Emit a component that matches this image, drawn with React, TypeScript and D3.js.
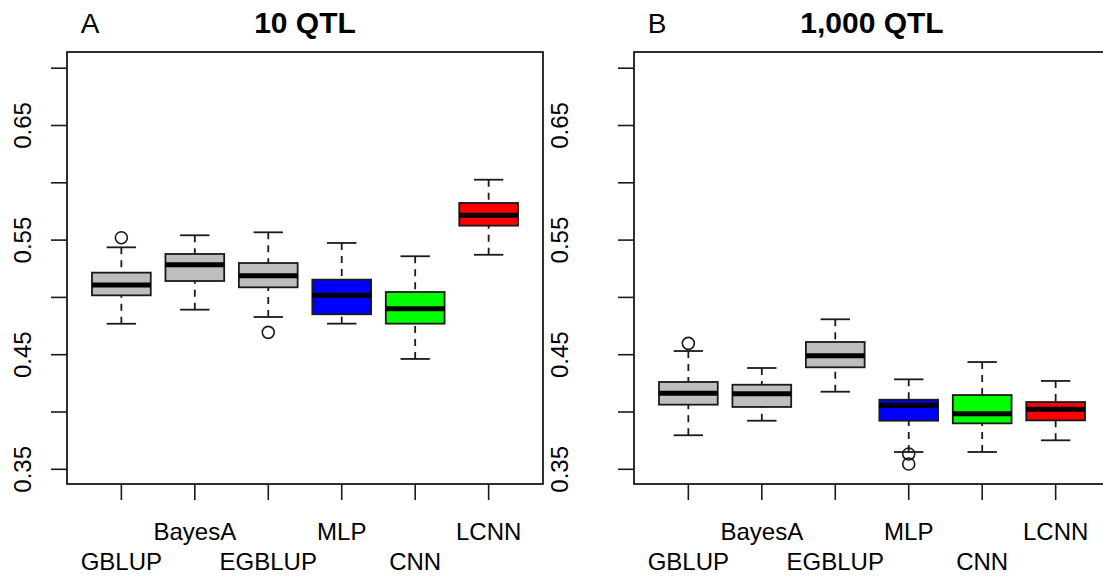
import React from 'react'
import * as d3 from 'd3'

// methods and fill colours
const methods = ['GBLUP', 'BayesA', 'EGBLUP', 'MLP', 'CNN', 'LCNN']
const boxColors = ['#BEBEBE', '#BEBEBE', '#BEBEBE', '#0000FF', '#00FF00', '#FF0000']

const yTicks = [0.35, 0.4, 0.45, 0.5, 0.55, 0.6, 0.65, 0.7]
const yTickLabels = ['0.35', '0.45', '0.55', '0.65']

// panel A: 10 QTL
const qtl10Low = [0.477, 0.4893, 0.4829, 0.4771, 0.4463, 0.5372]
const qtl10Q1 = [0.5018, 0.5143, 0.5088, 0.4853, 0.4771, 0.5626]
const qtl10Median = [0.5108, 0.5285, 0.5189, 0.5018, 0.4901, 0.5716]
const qtl10Q3 = [0.5216, 0.5379, 0.53, 0.5155, 0.5047, 0.5824]
const qtl10High = [0.5437, 0.5542, 0.5568, 0.5475, 0.5359, 0.6027]
const qtl10Outliers = [[0.5521], [], [0.4695], [], [], []]

// panel B: 1,000 QTL
const qtl1000Low = [0.3797, 0.3924, 0.4177, 0.3651, 0.3651, 0.3753]
const qtl1000Q1 = [0.4064, 0.4044, 0.439, 0.3924, 0.3901, 0.3927]
const qtl1000Median = [0.4163, 0.416, 0.4491, 0.4058, 0.3985, 0.4024]
const qtl1000Q3 = [0.4262, 0.4238, 0.4611, 0.4107, 0.4148, 0.4087]
const qtl1000High = [0.4532, 0.4384, 0.4809, 0.4285, 0.4436, 0.4271]
const qtl1000Outliers = [[0.4599], [], [], [0.3634, 0.3546], [], []]

const FONT = 'Liberation Sans, Arial, sans-serif'
const TOP = 52
const BOTTOM = 484
const PANEL_W = 476
const INK = '#1a1a1a'

const y = d3.scaleLinear().domain([0.35, 0.7]).range([469.3, 68.2])

type PanelProps = {
  x0: number
  labelX: number
  letter: string
  title: string
  low: number[]
  q1: number[]
  median: number[]
  q3: number[]
  high: number[]
  outliers: number[][]
}

const Panel = ({ x0, labelX, letter, title, low, q1, median, q3, high, outliers }: PanelProps) => {
  const x = d3.scaleLinear().domain([0.26, 6.74]).range([x0, x0 + PANEL_W])
  const half = x(1.4) - x(1)
  const staple = half / 2

  return (
    <g fontFamily={FONT}>
      <text x={x0 + 23} y={33} fontSize={28} textAnchor="middle">{letter}</text>
      <text x={x0 + PANEL_W / 2} y={33} fontSize={30} fontWeight="bold" textAnchor="middle">{title}</text>

      {methods.map((m, i) => {
        const cx = x(i + 1)
        return (
          <g key={m}>
            <line x1={cx} x2={cx} y1={y(low[i])} y2={y(q1[i])} stroke={INK} strokeWidth={1.8} strokeDasharray="7,6" />
            <line x1={cx} x2={cx} y1={y(high[i])} y2={y(q3[i])} stroke={INK} strokeWidth={1.8} strokeDasharray="7,6" />
            <line x1={cx - staple} x2={cx + staple} y1={y(low[i])} y2={y(low[i])} stroke={INK} strokeWidth={1.8} />
            <line x1={cx - staple} x2={cx + staple} y1={y(high[i])} y2={y(high[i])} stroke={INK} strokeWidth={1.8} />
            <rect x={cx - half} y={y(q3[i])} width={half * 2} height={y(q1[i]) - y(q3[i])}
              fill={boxColors[i]} stroke={INK} strokeWidth={1.8} />
            <line x1={cx - half} x2={cx + half} y1={y(median[i])} y2={y(median[i])} stroke="#000" strokeWidth={5} />
            {outliers[i].map((o, j) => (
              <circle key={j} cx={cx} cy={y(o)} r={6} fill="none" stroke={INK} strokeWidth={1.6} />
            ))}
            <line x1={cx} x2={cx} y1={BOTTOM} y2={BOTTOM + 16} stroke={INK} strokeWidth={1.6} />
            <text x={cx} y={i % 2 === 0 ? 570 : 540} fontSize={24} textAnchor="middle">{m}</text>
          </g>
        )
      })}

      {yTicks.map(t => (
        <line key={t} x1={x0 - 16} x2={x0} y1={y(t)} y2={y(t)} stroke={INK} strokeWidth={1.6} />
      ))}
      {yTickLabels.map(t => (
        <text key={t} transform={`translate(${labelX},${y(+t)}) rotate(-90)`} fontSize={24}
          textAnchor="middle" dominantBaseline="central">{t}</text>
      ))}

      <rect x={x0} y={TOP} width={PANEL_W} height={BOTTOM - TOP} fill="none" stroke={INK} strokeWidth={1.8} />
    </g>
  )
}

export default function App() {
  return (
    <svg width={1103} height={577} style={{ position: 'absolute', left: 0, top: 0, background: '#fff' }}>
      <Panel x0={67} labelX={22.5} letter="A" title="10 QTL"
        low={qtl10Low} q1={qtl10Q1} median={qtl10Median} q3={qtl10Q3} high={qtl10High} outliers={qtl10Outliers} />
      <Panel x0={634} labelX={559} letter="B" title="1,000 QTL"
        low={qtl1000Low} q1={qtl1000Q1} median={qtl1000Median} q3={qtl1000Q3} high={qtl1000High} outliers={qtl1000Outliers} />
    </svg>
  )
}
